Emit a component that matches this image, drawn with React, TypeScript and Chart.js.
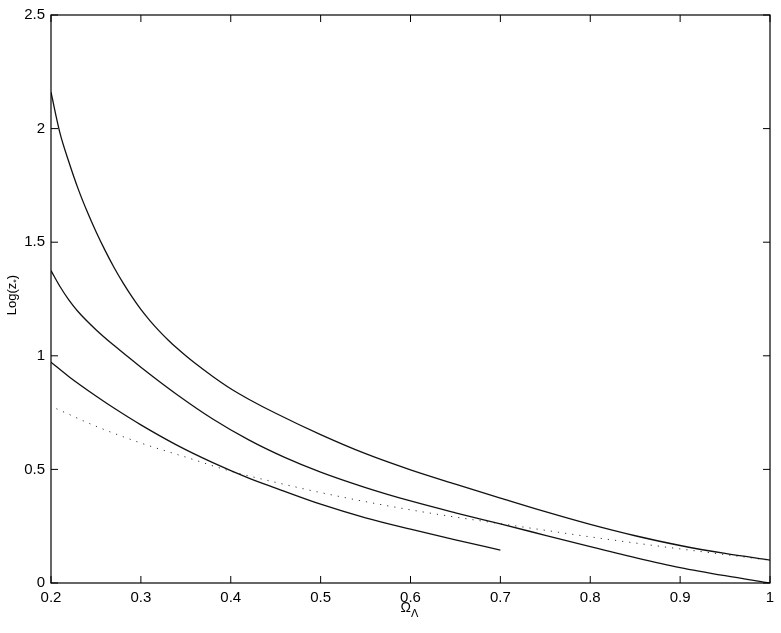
import React, { useEffect, useRef } from "react";
import { Chart, registerables } from "chart.js";

Chart.register(...registerables);

// Curve A (top)
const xA = [0.2, 0.21, 0.22, 0.23, 0.24, 0.25, 0.26, 0.27, 0.28, 0.29, 0.3, 0.31, 0.32, 0.33, 0.34, 0.35, 0.36, 0.38, 0.4, 0.42, 0.45, 0.5, 0.55, 0.6, 0.65, 0.7, 0.75, 0.8, 0.85, 0.9, 0.95, 1.0];
const yA = [2.16, 1.98, 1.852, 1.737, 1.637, 1.547, 1.465, 1.39, 1.322, 1.26, 1.204, 1.155, 1.111, 1.071, 1.034, 1.0, 0.968, 0.909, 0.855, 0.809, 0.747, 0.653, 0.569, 0.498, 0.435, 0.374, 0.314, 0.258, 0.208, 0.165, 0.13, 0.101];
// Curve B (middle)
const xB = [0.2, 0.21, 0.22, 0.23, 0.25, 0.27, 0.3, 0.34, 0.38, 0.42, 0.46, 0.5, 0.55, 0.6, 0.65, 0.7, 0.75, 0.8, 0.85, 0.9, 0.95, 1.0];
const yB = [1.375, 1.305, 1.245, 1.195, 1.115, 1.046, 0.95, 0.83, 0.722, 0.63, 0.553, 0.488, 0.42, 0.361, 0.309, 0.26, 0.21, 0.16, 0.112, 0.068, 0.032, 0.0];
// Curve C (bottom, ends at 0.7)
const xC = [0.2, 0.22, 0.25, 0.27, 0.3, 0.34, 0.38, 0.42, 0.45, 0.5, 0.55, 0.6, 0.65, 0.7];
const yC = [0.972, 0.908, 0.823, 0.77, 0.696, 0.607, 0.53, 0.462, 0.418, 0.347, 0.287, 0.237, 0.19, 0.145];
// Dotted curve
const xD = [0.206, 0.21, 0.25, 0.3, 0.35, 0.4, 0.45, 0.5, 0.55, 0.6, 0.65, 0.7, 0.75, 0.8, 0.85, 0.9, 0.95, 1.0];
const yD = [0.767, 0.76, 0.69, 0.616, 0.554, 0.492, 0.443, 0.398, 0.358, 0.322, 0.29, 0.261, 0.232, 0.203, 0.176, 0.15, 0.125, 0.1];

const xTicks = [0.2, 0.3, 0.4, 0.5, 0.6, 0.7, 0.8, 0.9, 1.0];
const yTicks = [0, 0.5, 1, 1.5, 2, 2.5];

const pts = (xs: number[], ys: number[]) => xs.map((x, i) => ({ x, y: ys[i] }));

const FONT = "'Liberation Sans', Arial, sans-serif";

const framePlugin = {
  id: "frame",
  afterDraw(chart: any) {
    const { ctx, chartArea: a, scales } = chart;
    const xs = scales.x;
    const ys = scales.y;
    ctx.save();
    ctx.strokeStyle = "#000";
    ctx.lineWidth = 1.2;
    ctx.strokeRect(a.left, a.top, a.right - a.left, a.bottom - a.top);
    const tl = 7;
    ctx.beginPath();
    xTicks.forEach((v) => {
      const px = xs.getPixelForValue(v);
      ctx.moveTo(px, a.bottom);
      ctx.lineTo(px, a.bottom - tl);
      ctx.moveTo(px, a.top);
      ctx.lineTo(px, a.top + tl);
    });
    yTicks.forEach((v) => {
      const py = ys.getPixelForValue(v);
      ctx.moveTo(a.left, py);
      ctx.lineTo(a.left + tl, py);
      ctx.moveTo(a.right, py);
      ctx.lineTo(a.right - tl, py);
    });
    ctx.lineWidth = 1;
    ctx.stroke();

    // x title: Omega with subscript Lambda
    ctx.fillStyle = "#000";
    ctx.textBaseline = "alphabetic";
    ctx.textAlign = "left";
    const cx = (a.left + a.right) / 2;
    ctx.font = `14px ${FONT}`;
    const wO = ctx.measureText("\u03A9").width;
    ctx.font = `11px ${FONT}`;
    const wL = ctx.measureText("\u039B").width;
    const startX = cx - (wO + wL) / 2 - 1;
    ctx.font = `14px ${FONT}`;
    ctx.fillText("\u03A9", startX, 612);
    ctx.font = `11px ${FONT}`;
    ctx.fillText("\u039B", startX + wO, 617);

    // y title: Log(z_*)
    ctx.translate(16, 295);
    ctx.rotate(-Math.PI / 2);
    ctx.font = `13px ${FONT}`;
    const p1 = "Log(z";
    const p3 = ")";
    const w1 = ctx.measureText(p1).width;
    const w3 = ctx.measureText(p3).width;
    ctx.font = `9px ${FONT}`;
    const w2 = ctx.measureText("*").width;
    const total = w1 + w2 + w3;
    let x0 = -total / 2;
    ctx.font = `13px ${FONT}`;
    ctx.fillText(p1, x0, 0);
    x0 += w1;
    ctx.font = `9px ${FONT}`;
    ctx.fillText("*", x0, 3);
    x0 += w2;
    ctx.font = `13px ${FONT}`;
    ctx.fillText(p3, x0, 0);
    ctx.restore();
  },
};

export default function App() {
  const ref = useRef<HTMLCanvasElement | null>(null);
  useEffect(() => {
    if (!ref.current) return;
    const solid = (data: any) => ({
      data,
      borderColor: "#111",
      borderWidth: 1.3,
      pointRadius: 0,
      fill: false,
      cubicInterpolationMode: "monotone" as const,
    });
    const chart = new Chart(ref.current, {
      type: "line",
      data: {
        datasets: [
          solid(pts(xA, yA)),
          solid(pts(xB, yB)),
          solid(pts(xC, yC)),
          {
            data: pts(xD, yD),
            borderColor: "#333",
            borderWidth: 1,
            borderDash: [1.2, 6],
            pointRadius: 0,
            fill: false,
            cubicInterpolationMode: "monotone" as const,
          },
        ],
      },
      options: {
        animation: false,
        responsive: false,
        events: [],
        layout: { padding: { top: 14, right: 11, left: 0, bottom: 0 } },
        plugins: { legend: { display: false }, tooltip: { enabled: false } },
        scales: {
          x: {
            type: "linear",
            min: 0.2,
            max: 1.0,
            border: { display: false },
            grid: { display: false, drawTicks: false },
            afterFit: (s: any) => {
              s.height = 50;
            },
            afterBuildTicks: (s: any) => {
              s.ticks = xTicks.map((v) => ({ value: v }));
            },
            ticks: {
              autoSkip: false,
              maxRotation: 0,
              padding: 6,
              color: "#000",
              font: { family: FONT, size: 15 },
              callback: (v: any) => String(Number(Number(v).toFixed(1))),
            },
          },
          y: {
            type: "linear",
            min: 0,
            max: 2.5,
            border: { display: false },
            grid: { display: false, drawTicks: false },
            afterFit: (s: any) => {
              s.width = 51;
            },
            afterBuildTicks: (s: any) => {
              s.ticks = yTicks.map((v) => ({ value: v }));
            },
            ticks: {
              autoSkip: false,
              padding: 6,
              color: "#000",
              font: { family: FONT, size: 15 },
              callback: (v: any) => String(Number(Number(v).toFixed(1))),
            },
          },
        },
      },
      plugins: [framePlugin],
    });
    return () => chart.destroy();
  }, []);
  return (
    <div style={{ position: "fixed", left: 0, top: 0, width: 781, height: 633, background: "#fff" }}>
      <canvas ref={ref} width={781} height={633} style={{ display: "block" }} />
    </div>
  );
}
